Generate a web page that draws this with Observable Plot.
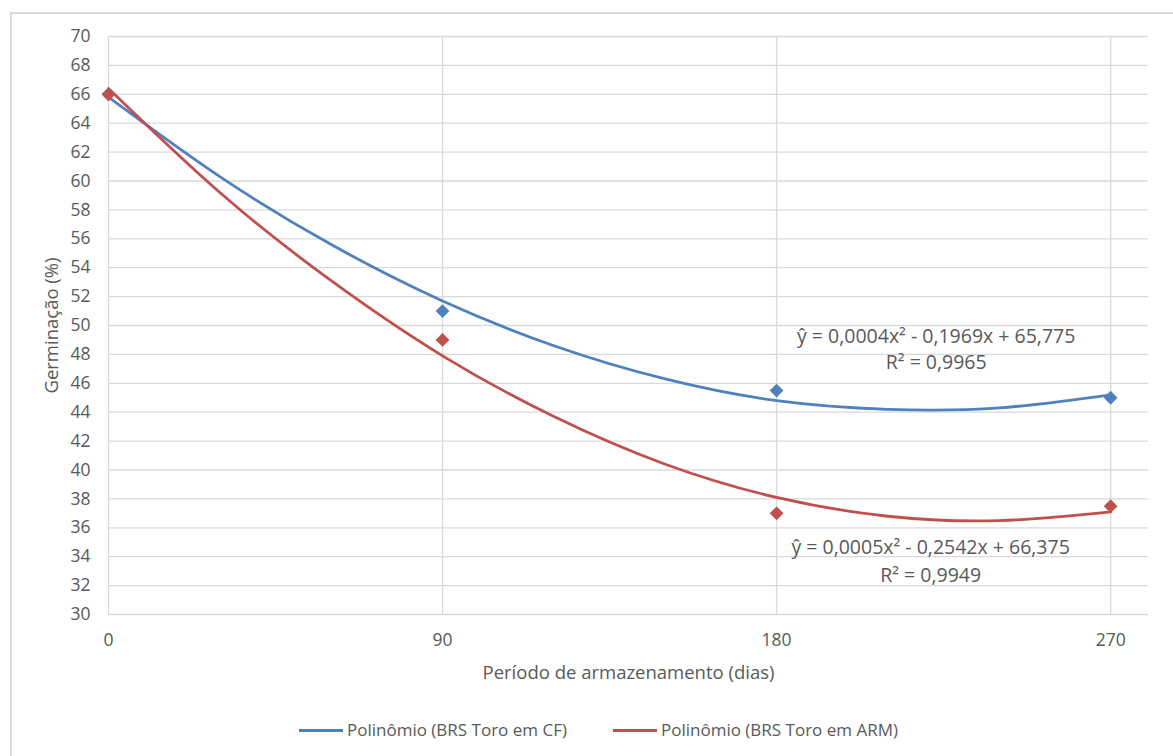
<!DOCTYPE html>
<html>
<head>
<meta charset="utf-8">
<script src="https://cdn.jsdelivr.net/npm/d3@7"></script>
<script src="https://cdn.jsdelivr.net/npm/@observablehq/plot@0.6"></script>
<style>
  html, body { margin: 0; padding: 0; background: #fff; overflow: hidden; }
  #frame { position: absolute; left: 10px; top: 12px; width: 1300px; height: 800px;
           border-left: 2px solid #d9d9d9; border-top: 2px solid #d9d9d9; box-sizing: border-box; }
  #chart { position: absolute; left: 0; top: 0; }
  #legend { position: absolute; top: 718px; left: 0; width: 1173px; font-family: "Open Sans", sans-serif;
            font-size: 17px; color: #595959; }
  .item { position: absolute; display: flex; align-items: center; white-space: nowrap; height: 24px; line-height: 24px; }
  .swatch { display: inline-block; width: 44px; height: 3px; margin-right: 4px; }
</style>
</head>
<body>
<div id="frame"></div>
<div id="chart"></div>
<div id="legend"></div>
<script>
// ---- data ----
const days = [0, 90, 180, 270];
const germCF = [66, 51, 45.5, 45];
const germARM = [66, 49, 37, 37.5];

// trend (polynomial) curves every 30 days
const curveDays = [0, 30, 60, 90, 120, 150, 180, 210, 240, 270];
const curveCF = [65.8, 60.3, 55.6, 51.7, 48.6, 46.3, 44.8, 44.2, 44.3, 45.2];
const curveARM = [66.4, 59.2, 53.1, 47.9, 43.7, 40.4, 38.1, 36.8, 36.5, 37.1];

const seriesNames = ["Polinômio (BRS Toro em CF)", "Polinômio (BRS Toro em ARM)"];
const seriesColors = ["#4f81bd", "#c0504d"];

const yTicks = d3.range(30, 71, 2);
const xTicks = [0, 90, 180, 270];

const equations = [
  {x: 223, y: 49.2, text: "ŷ = 0,0004x² - 0,1969x + 65,775"},
  {x: 223, y: 47.4, text: "R² = 0,9965"},
  {x: 221.5, y: 34.6, text: "ŷ = 0,0005x² - 0,2542x + 66,375"},
  {x: 221.5, y: 32.7, text: "R² = 0,9949"}
];

const xTitle = "Período de armazenamento (dias)";
const yTitle = "Germinação (%)";

// ---- tables ----
const pts = [
  ...days.map((d, i) => ({x: d, y: germCF[i], s: 0})),
  ...days.map((d, i) => ({x: d, y: germARM[i], s: 1}))
];
const curves = [
  ...curveDays.map((d, i) => ({x: d, y: curveCF[i], s: 0})),
  ...curveDays.map((d, i) => ({x: d, y: curveARM[i], s: 1}))
];

const grid = "#d9d9d9";
const textColor = "#595959";

const chart = Plot.plot({
  width: 1173,
  height: 700,
  marginLeft: 108,
  marginRight: 25,
  marginTop: 36,
  marginBottom: 86,
  style: {fontFamily: "'Open Sans', sans-serif", fontSize: "17px", color: textColor, background: "transparent"},
  x: {domain: [0, 280.2], ticks: xTicks},
  y: {domain: [30, 70], ticks: yTicks},
  marks: [
    Plot.gridY(yTicks.filter(t => t > 30), {stroke: grid, strokeOpacity: 1, strokeWidth: 1.3}),
    Plot.gridX(xTicks.filter(t => t > 0), {stroke: grid, strokeOpacity: 1, strokeWidth: 1.3}),
    Plot.ruleX([0], {stroke: grid, strokeWidth: 1.3}),
    Plot.ruleY([30], {stroke: grid, strokeWidth: 1.3}),
    Plot.axisY({ticks: yTicks, tickSize: 0, tickPadding: 18, label: null, fill: textColor, fontSize: 17.5}),
    Plot.axisX({ticks: xTicks, tickSize: 0, tickPadding: 19, label: null, fill: textColor, fontSize: 17.5}),
    Plot.text([yTitle], {frameAnchor: "left", textAnchor: "middle", lineAnchor: "middle", rotate: -90, dx: -56, fill: textColor, fontSize: 18.5}),
    Plot.text([xTitle], {frameAnchor: "bottom", textAnchor: "middle", lineAnchor: "middle", dy: 59, fill: textColor, fontSize: 18.5}),
    Plot.line(curves, {x: "x", y: "y", z: "s", stroke: d => seriesColors[d.s], strokeWidth: 2.8, curve: "natural"}),
    Plot.dot(pts, {x: "x", y: "y", symbol: "diamond2", r: 6.2, fill: d => seriesColors[d.s], stroke: "none"}),
    Plot.text(equations, {x: "x", y: "y", text: "text", fill: textColor, fontSize: 19.5})
  ]
});
document.getElementById("chart").appendChild(chart);

// ---- legend ----
const legend = document.getElementById("legend");
const legendX = [299, 613];
seriesNames.forEach((name, i) => {
  const item = document.createElement("div");
  item.className = "item";
  item.style.left = legendX[i] + "px";
  item.innerHTML = `<span class="swatch" style="background:${seriesColors[i]}"></span><span>${name}</span>`;
  legend.appendChild(item);
});
</script>
</body>
</html>
